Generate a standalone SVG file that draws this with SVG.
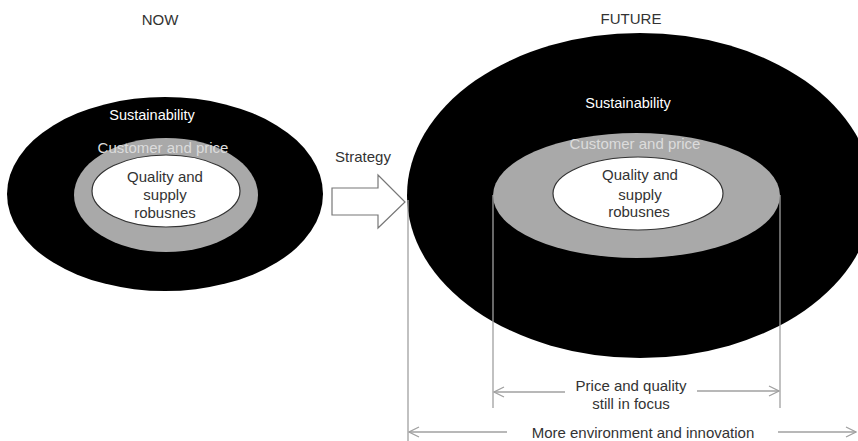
<svg xmlns="http://www.w3.org/2000/svg" width="858" height="441" viewBox="0 0 858 441">
<style>
text{font-family:"Liberation Sans",Arial,sans-serif;text-anchor:middle}
.title{font-size:15px;fill:#333}
.sus{font-size:14.5px;fill:#fff}
.cus{font-size:15px;fill:#dcdcdc}
.in{font-size:15px;fill:#333}
.lbl{font-size:15px;fill:#333}
.outer{fill:#000}
.ring{fill:#a9a9a9}
.core{fill:#fff;stroke:#333;stroke-width:1.2}
.dim{stroke:#a0a0a0;stroke-width:1.3;fill:none}
</style>
<defs>
<marker id="ah" viewBox="0 0 12 12" refX="11" refY="6" markerWidth="12" markerHeight="12" markerUnits="userSpaceOnUse" orient="auto-start-reverse">
<path d="M1,1 L11,6 L1,11" fill="none" stroke="#a0a0a0" stroke-width="1.3"/>
</marker>
</defs>
<rect width="858" height="441" fill="#fff"/>
<text class="title" x="160" y="25">NOW</text>
<text class="title" x="631" y="24">FUTURE</text>
<g id="now">
<ellipse class="outer" cx="165" cy="194" rx="158" ry="97"/>
<ellipse class="ring" cx="166" cy="195" rx="92" ry="57"/>
<ellipse class="core" cx="166" cy="191" rx="74" ry="36"/>
<text class="sus" x="152" y="120">Sustainability</text>
<text class="cus" x="163" y="153">Customer and price</text>
<text class="in" x="165" y="182">Quality and</text>
<text class="in" x="165" y="200">supply</text>
<text class="in" x="165" y="218">robusnes</text>
</g>
<g id="strategy">
<path d="M332,188 L378,188 L378,175 L405,202 L378,228 L378,215 L332,215 Z" fill="#fff" stroke="#777" stroke-width="1.2"/>
<text class="lbl" x="363" y="162">Strategy</text>
</g>
<g id="future">
<ellipse class="outer" cx="640" cy="195.5" rx="233" ry="162.5"/>
<ellipse class="ring" cx="636.5" cy="195.5" rx="143.5" ry="62.5"/>
<ellipse class="core" cx="638" cy="193.5" rx="85" ry="36.5"/>
<text class="sus" x="628" y="108">Sustainability</text>
<text class="cus" x="635" y="149">Customer and price</text>
<text class="in" x="640" y="180">Quality and</text>
<text class="in" x="640" y="200">supply</text>
<text class="in" x="639" y="217">robusnes</text>
</g>
<g id="connectors">
<line class="dim" x1="493" y1="195" x2="493" y2="408"/>
<line class="dim" x1="780" y1="195" x2="780" y2="408"/>
<line class="dim" x1="408" y1="200" x2="408" y2="441"/>
<line class="dim" x1="565" y1="392" x2="494" y2="392" marker-end="url(#ah)"/>
<line class="dim" x1="697" y1="391" x2="779" y2="391" marker-end="url(#ah)"/>
<line class="dim" x1="507" y1="432" x2="409" y2="432" marker-end="url(#ah)"/>
<line class="dim" x1="778" y1="432" x2="856" y2="432" marker-end="url(#ah)"/>
</g>
<g id="labels">
<text class="lbl" x="631" y="391">Price and quality</text>
<text class="lbl" x="631" y="409">still in focus</text>
<text class="lbl" x="643" y="438">More environment and innovation</text>
</g>
</svg>
